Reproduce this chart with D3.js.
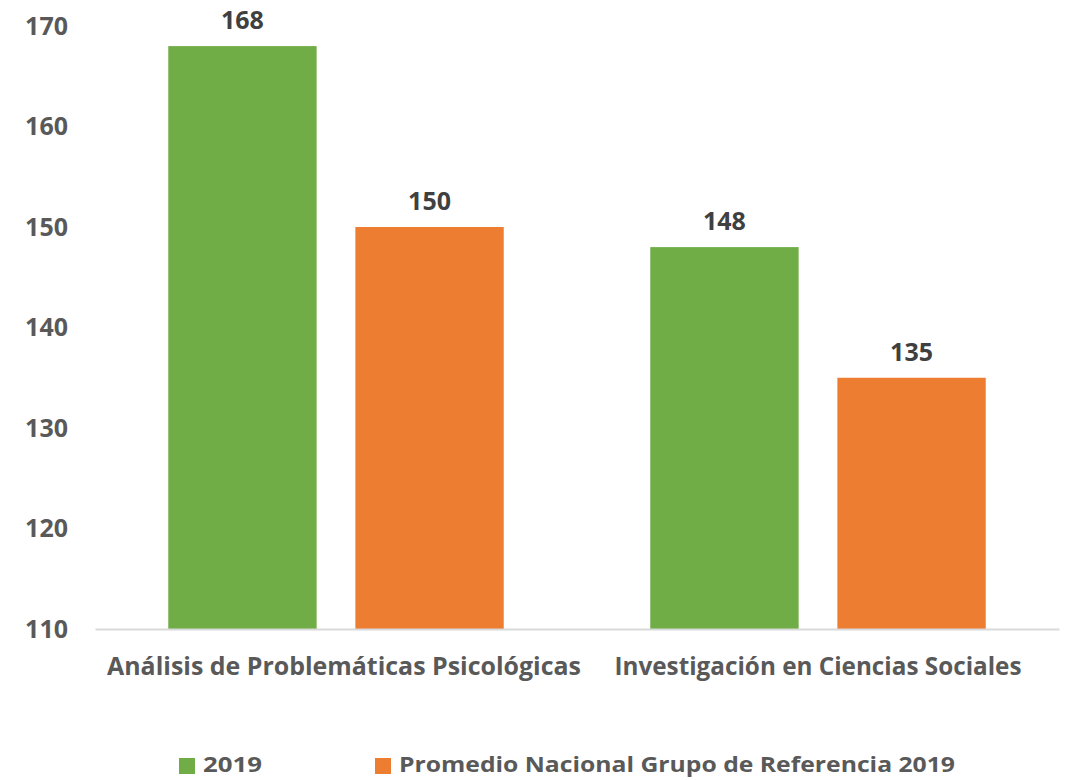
<!DOCTYPE html>
<html><head><meta charset="utf-8">
<script src="https://cdn.jsdelivr.net/npm/d3@7"></script>
<style>body{margin:0;background:#fff;} text{font-family:"Open Sans",sans-serif;font-weight:bold;}</style>
</head><body>
<svg id="c" width="1066" height="780"></svg>
<script>
const categories = ["Análisis de Problemáticas Psicológicas", "Investigación en Ciencias Sociales"];
const seriesNames = ["2019", "Promedio Nacional Grupo de Referencia 2019"];
const series2019 = [168, 148];
const seriesPromedio = [150, 135];
const yTicks = [110, 120, 130, 140, 150, 160, 170];
const colors = ["#70AD47", "#ED7D31"];

(function () {
const svg = d3.select("#c");
const pLeft = 95, pRight = 1059, pTop = 26, pBottom = 629;
const fs = 25;
const x0 = d3.scaleBand().domain(categories).range([pLeft, pRight]).paddingOuter(0.152).paddingInner(0.304);
const x1 = d3.scaleBand().domain(seriesNames).range([0, x0.bandwidth()]).paddingInner(0.207);
const y = d3.scaleLinear().domain([110, 170]).range([pBottom, pTop]);

const data = categories.map((c, i) => ({cat: c, vals: [series2019[i], seriesPromedio[i]]}));

// y axis labels
const yAxis = d3.axisLeft(y).tickValues(yTicks).tickSize(0).tickPadding(0);
const gy = svg.append("g").attr("transform", `translate(68,0)`).call(yAxis);
gy.select(".domain").remove();
gy.selectAll("text").attr("font-size", fs).attr("fill", "#595959").attr("font-family", "Open Sans").attr("font-weight", "bold");

// bars
const g = svg.selectAll(".grp").data(data).enter().append("g").attr("transform", d => `translate(${x0(d.cat)},0)`);
g.selectAll("rect").data(d => d.vals.map((v, j) => ({v, s: seriesNames[j], j}))).enter().append("rect")
  .attr("x", d => x1(d.s)).attr("width", x1.bandwidth())
  .attr("y", d => y(d.v)).attr("height", d => y(110) - y(d.v))
  .attr("fill", d => colors[d.j]);
g.selectAll(".lbl").data(d => d.vals.map((v, j) => ({v, s: seriesNames[j], j}))).enter().append("text")
  .attr("x", d => x1(d.s) + x1.bandwidth() / 2).attr("y", d => y(d.v) - 17)
  .attr("text-anchor", "middle").attr("font-size", fs).attr("fill", "#404040").text(d => d.v);

// x axis
const xAxis = d3.axisBottom(x0).tickSize(0).tickPadding(0);
const gx = svg.append("g").attr("transform", `translate(0,${pBottom})`).call(xAxis);
gx.select(".domain").attr("stroke", "#d9d9d9").attr("stroke-width", 2);
const labelShift = [8, 0];
const labelW = [474, 407];
gx.selectAll("text").attr("y", 46).attr("dy", 0).attr("font-size", fs).attr("fill", "#595959")
  .attr("font-family", "Open Sans").attr("font-weight", "bold")
  .attr("x", (d, i) => labelShift[i])
  .attr("textLength", (d, i) => labelW[i]).attr("lengthAdjust", "spacingAndGlyphs");

// legend
const legX = [179, 375];
const legW = [59, 556];
seriesNames.forEach((s, i) => {
  svg.append("rect").attr("x", legX[i]).attr("y", 758).attr("width", 16).attr("height", 16).attr("fill", colors[i]);
  svg.append("text").attr("x", legX[i] + 24).attr("y", 772).attr("font-size", 22).attr("fill", "#595959").text(s)
    .attr("textLength", legW[i]).attr("lengthAdjust", "spacingAndGlyphs");
});
})();
</script>
</body></html>
